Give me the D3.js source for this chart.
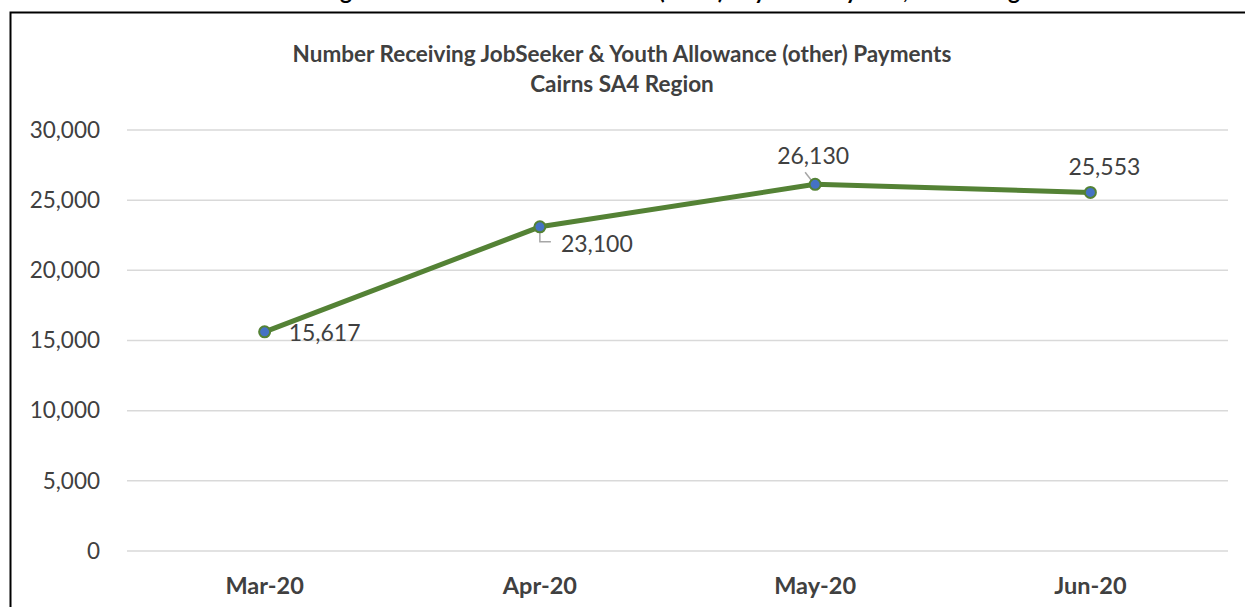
<!DOCTYPE html>
<html>
<head>
<meta charset="utf-8">
<script src="https://cdn.jsdelivr.net/npm/d3@7"></script>
<style>
  body { margin: 0; background: #fff; }
  svg { display: block; font-family: Lato, "Open Sans", sans-serif; }
</style>
</head>
<body>
<svg id="chart" width="1245" height="607"></svg>
<script>
// chart data
var months = ['Mar-20', 'Apr-20', 'May-20', 'Jun-20'];
var recipients = [15617, 23100, 26130, 25553];
var yTicks = [0, 5000, 10000, 15000, 20000, 25000, 30000];

var width = 1245;
var height = 607;
var margin = { left: 127, right: 17, top: 130, bottom: 56 };

var svg = d3.select('#chart');

// outer frame, runs off the right and bottom edges
svg.append('rect')
    .attr('x', 10.5).attr('y', 12.5)
    .attr('width', 1260).attr('height', 640)
    .attr('fill', 'none').attr('stroke', '#000').attr('stroke-width', 2);

// heading of the page above, mostly cut off
svg.append('text')
    .attr('x', 610).attr('y', -1.5)
    .attr('text-anchor', 'middle')
    .style('font-weight', 'bold').style('font-size', '22.5px')
    .text('Number Receiving JobSeeker & Youth Allowance (other) Payments by SA4, Cairns Region');

var x = d3.scaleBand()
    .domain(months)
    .range([margin.left, width - margin.right]);

var y = d3.scaleLinear()
    .domain([0, 30000])
    .range([height - margin.bottom, margin.top]);

// gridlines
svg.append('g')
    .selectAll('line')
    .data(yTicks)
    .enter()
    .append('line')
    .attr('x1', margin.left).attr('x2', width - margin.right)
    .attr('y1', function(d){ return y(d); })
    .attr('y2', function(d){ return y(d); })
    .attr('stroke', '#d9d9d9').attr('stroke-width', 1.5);

// y axis labels
var yAxis = d3.axisLeft(y).tickValues(yTicks).tickSize(0).tickPadding(0)
    .tickFormat(d3.format(','));
svg.append('g')
    .attr('transform', 'translate(100,0)')
    .call(yAxis)
    .call(function(g){ g.select('.domain').remove(); })
    .selectAll('text')
    .attr('fill', '#404040')
    .style('font-size', '22.5px')
    .style('font-family', 'Lato, "Open Sans", sans-serif');

// x axis labels
var xAxis = d3.axisBottom(x).tickSize(0).tickPadding(0);
svg.append('g')
    .attr('transform', 'translate(0,' + 577 + ')')
    .call(xAxis)
    .call(function(g){ g.select('.domain').remove(); })
    .selectAll('text')
    .attr('fill', '#404040')
    .style('font-size', '23.5px')
    .style('font-weight', 'bold')
    .style('font-family', 'Lato, "Open Sans", sans-serif');

// title
var title = svg.append('text')
    .attr('x', 622).attr('text-anchor', 'middle')
    .attr('fill', '#404040')
    .style('font-weight', 'bold').style('font-size', '22.5px');
title.append('tspan').attr('x', 622).attr('y', 62)
    .text('Number Receiving JobSeeker & Youth Allowance (other) Payments');
title.append('tspan').attr('x', 622).attr('y', 92)
    .text('Cairns SA4 Region');

var points = months.map(function(m, i){
    return { month: m, value: recipients[i] };
});

var cx = function(d){ return x(d.month) + x.bandwidth() / 2; };
var cy = function(d){ return y(d.value); };

// series line
var line = d3.line().x(cx).y(cy);
svg.append('path')
    .datum(points)
    .attr('d', line)
    .attr('fill', 'none')
    .attr('stroke', '#548235')
    .attr('stroke-width', 5)
    .attr('stroke-linejoin', 'round');

// leader lines for the labels that sit away from their point
var leaders = [
    null,
    function(d){ return 'M' + cx(d) + ',' + (cy(d) + 3) + 'V' + (cy(d) + 15) + 'H' + (cx(d) + 11); },
    function(d){ return 'M' + (cx(d) - 3) + ',' + (cy(d) - 3) + 'L' + (cx(d) - 10) + ',' + (cy(d) - 12); },
    null
];
svg.append('g')
    .selectAll('path')
    .data(points.filter(function(d, i){ return leaders[i]; }))
    .enter()
    .append('path')
    .attr('d', function(d){ return leaders[months.indexOf(d.month)](d); })
    .attr('fill', 'none')
    .attr('stroke', '#a6a6a6')
    .attr('stroke-width', 1.5);

// markers
svg.append('g')
    .selectAll('circle')
    .data(points)
    .enter()
    .append('circle')
    .attr('cx', cx).attr('cy', cy).attr('r', 5.5)
    .attr('fill', '#4472c4')
    .attr('stroke', '#548235')
    .attr('stroke-width', 2);

// data labels (offset from the point, in pixels)
var labelOffsets = [[24, 9], [21, 25], [-2, -20], [14, -17]];
var labelAnchors = ['start', 'start', 'middle', 'middle'];
svg.append('g')
    .selectAll('text')
    .data(points)
    .enter()
    .append('text')
    .attr('x', function(d, i){ return cx(d) + labelOffsets[i][0]; })
    .attr('y', function(d, i){ return cy(d) + labelOffsets[i][1]; })
    .attr('text-anchor', function(d, i){ return labelAnchors[i]; })
    .attr('fill', '#404040')
    .style('font-size', '23px')
    .text(function(d){ return d3.format(',')(d.value); });
</script>
</body>
</html>
